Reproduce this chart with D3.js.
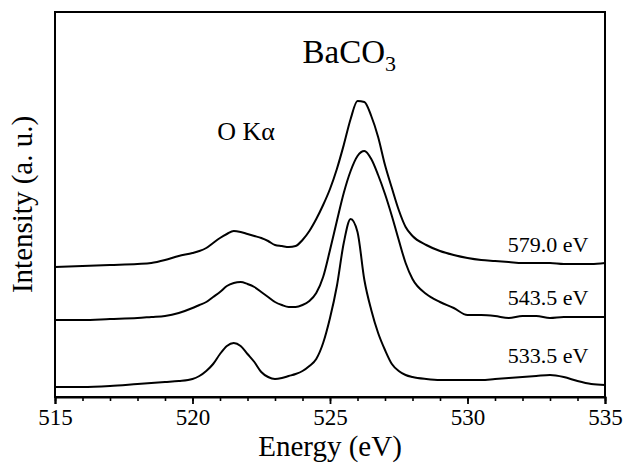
<!DOCTYPE html>
<html>
<head>
<meta charset="utf-8">
<script src="https://cdn.jsdelivr.net/npm/d3@7"></script>
<style>
  body { margin: 0; background: #fff; }
  text { font-family: "Liberation Serif", "Times New Roman", serif; fill: #000; }
</style>
</head>
<body>
<div id="chart"></div>
<script>
// energy grid (eV) shared by the three spectra
const energy = [515, 516, 517, 518, 518.5, 519, 519.5, 520, 520.25, 520.5, 520.75,
  521, 521.25, 521.5, 521.75, 522, 522.25, 522.5, 522.75, 523, 523.25, 523.5, 523.75,
  524, 524.25, 524.5, 524.75, 525, 525.25, 525.5, 525.75, 526, 526.25, 526.5, 526.75,
  527, 527.25, 527.5, 527.75, 528, 528.5, 529, 529.5, 530, 530.5, 531, 531.5, 532,
  532.5, 533, 533.5, 534, 534.5, 535];

// intensities (a.u., already offset as stacked in the figure)
const exc579 = [130, 131, 132, 133, 134, 137, 141, 144, 146, 149, 154,
  159, 163, 166, 165, 163, 161, 159, 156, 152, 151, 150, 151,
  157, 166, 178, 192, 208, 228, 252, 278, 296, 295, 281, 260,
  232, 209, 187, 170, 161, 152, 146, 142, 139, 137, 136, 135, 134,
  134, 134, 133, 133, 133, 134];

const exc543 = [77, 77, 78, 79, 80, 81, 84, 89, 92, 95, 100,
  105, 111, 114, 115, 113, 110, 105, 100, 95, 92, 90, 90,
  92, 96, 104, 120, 147, 176, 204, 226, 241, 246, 238, 222,
  203, 181, 157, 134, 118, 103, 95, 89, 82, 82, 81, 79, 81,
  81, 79, 80, 80, 80, 80];

const exc533 = [10, 10, 11, 13, 14, 15, 16, 18, 21, 26, 33,
  43, 51, 54, 51, 43, 35, 25, 20, 18, 19, 21, 23,
  26, 31, 38, 54, 79, 111, 154, 178, 165, 117, 87, 64,
  47, 33, 26, 22, 20, 18, 17, 17, 17, 17, 18, 19, 20,
  21, 22, 20, 16, 13, 12];

const seriesNames = ["579.0 eV", "543.5 eV", "533.5 eV"];
const seriesData = [exc579, exc543, exc533];
const labelLevel = [145, 92, 34];   // label baselines, in intensity units

const majorTicks = [515, 520, 525, 530, 535];

const W = 624, H = 467;
const margin = {top: 12, right: 19, bottom: 70, left: 55};

const svg = d3.select("#chart").append("svg")
  .attr("width", W).attr("height", H);

const x = d3.scaleLinear().domain([515, 535]).range([margin.left, W - margin.right]);
const y = d3.scaleLinear().domain([0, 385]).range([H - margin.bottom, margin.top]);

// frame
svg.append("rect")
  .attr("x", x(515)).attr("y", y(385))
  .attr("width", x(535) - x(515)).attr("height", y(0) - y(385))
  .attr("fill", "none").attr("stroke", "#000").attr("stroke-width", 2);

// minor ticks every 1 eV
const minor = svg.append("g")
  .attr("transform", "translate(0," + y(0) + ")")
  .call(d3.axisBottom(x).tickValues(d3.range(515, 536, 1)).tickSize(4).tickFormat(""));
minor.select(".domain").remove();
minor.selectAll("line").attr("stroke-width", 1.6);

// major ticks + labels
const xAxis = svg.append("g")
  .attr("transform", "translate(0," + y(0) + ")")
  .call(d3.axisBottom(x).tickValues(majorTicks).tickSize(7).tickPadding(5).tickFormat(d3.format("d")));
xAxis.select(".domain").attr("stroke-width", 2);
xAxis.selectAll("line").attr("stroke-width", 1.8);
xAxis.selectAll("text")
  .style("font-family", "'Liberation Serif', serif")
  .style("font-size", "23px").attr("fill", "#000");

// spectra
const line = d3.line()
  .x((d, i) => x(energy[i]))
  .y(d => y(d))
  .curve(d3.curveMonotoneX);

svg.selectAll(".spec")
  .data(seriesData)
  .enter().append("path")
  .attr("class", "spec")
  .attr("d", line)
  .attr("fill", "none")
  .attr("stroke", "#000")
  .attr("stroke-width", 2);

// series labels
svg.selectAll(".lab")
  .data(seriesNames)
  .enter().append("text")
  .attr("class", "lab")
  .attr("x", x(534.4))
  .attr("y", (d, i) => y(labelLevel[i]))
  .attr("text-anchor", "end")
  .style("font-size", "22px")
  .text(d => d);

// annotations
const title = svg.append("text")
  .attr("x", x(524.0)).attr("y", 63)
  .style("font-size", "33px");
title.append("tspan").text("BaCO");
title.append("tspan").attr("dy", 8).style("font-size", "22px").text("3");

svg.append("text")
  .attr("x", x(520.9)).attr("y", 140)
  .style("font-size", "26px")
  .text("O K\u03B1");

// axis titles
svg.append("text")
  .attr("x", (x(515) + x(535)) / 2).attr("y", 456)
  .attr("text-anchor", "middle")
  .style("font-size", "29px")
  .text("Energy (eV)");

svg.append("text")
  .attr("transform", "translate(32," + ((y(0) + y(385)) / 2) + ") rotate(-90)")
  .attr("text-anchor", "middle")
  .style("font-size", "29px")
  .text("Intensity (a. u.)");
</script>
</body>
</html>
